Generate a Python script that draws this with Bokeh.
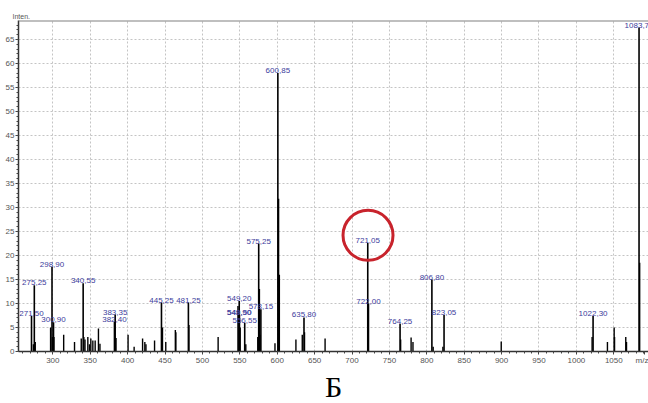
from bokeh.plotting import figure
from bokeh.models import (ColumnDataSource, LabelSet, Span, Range1d, SingleIntervalTicker,
                          FixedTicker, Title)
from bokeh.core.properties import value
from bokeh.embed import file_html
from bokeh.resources import INLINE

# ---- data: labelled peaks (m/z, intensity, label) ----
label_mz = [271.50, 275.25, 298.90, 300.90, 340.55, 382.40, 383.35, 445.25, 481.25,
            548.90, 549.50, 549.20, 556.55, 575.25, 578.15, 600.85, 635.80,
            721.05, 722.00, 764.25, 806.80, 823.05, 1022.30, 1083.75]
label_int = [7.4, 13.8, 17.6, 6.1, 14.2, 6.2, 7.7, 10.2, 10.2,
             7.6, 7.6, 10.5, 6.0, 22.5, 8.8, 58.0, 7.1,
             22.6, 10.0, 5.8, 15.0, 7.6, 7.4, 67.5]
label_text = ["271,50", "275,25", "298,90", "300,90", "340,55", "382,40", "383,35", "445,25", "481,25",
              "548,90", "549,50", "549,20", "556,55", "575,25", "578,15", "600,85", "635,80",
              "721,05", "722,00", "764,25", "806,80", "823,05", "1022,30", "1083,75"]

# ---- data: unlabelled peaks ----
peak_mz = [274.0, 276.5, 297.0, 299.5, 301.5, 314.5, 329.0, 338.0, 341.5, 343.0, 346.8, 349.0,
           350.8, 353.5, 356.6, 361.0, 363.0, 384.5, 400.6, 408.7, 420.0, 423.0, 424.5, 436.0,
           446.6, 451.0, 463.8, 464.5, 482.0, 521.0, 547.5, 550.5, 558.0, 574.0, 576.2, 577.0,
           597.0, 601.85, 602.85, 625.0, 633.5, 636.5, 664.0, 721.6, 765.0, 779.0, 781.5, 808.5,
           821.5, 899.5, 1021.0, 1041.5, 1050.5, 1051.0, 1066.0, 1067.0, 1084.6]
peak_int = [1.5, 2.0, 5.0, 3.0, 3.0, 3.5, 2.0, 2.7, 3.0, 2.5, 3.0, 1.5,
            2.7, 2.3, 2.3, 4.8, 1.6, 2.8, 3.5, 1.0, 2.7, 2.0, 1.5, 2.3,
            5.0, 2.0, 4.5, 4.0, 5.5, 3.0, 9.5, 5.0, 1.5, 3.0, 13.0, 3.5,
            1.7, 31.8, 16.0, 2.5, 3.5, 4.0, 2.7, 5.3, 2.5, 2.9, 2.0, 1.0,
            1.0, 2.1, 3.0, 2.0, 5.0, 3.0, 3.0, 2.0, 18.5]

# ---- axis ticks ----
x_ticks = list(range(300, 1051, 50))
x_unit_tick = 1091          # where the "m/z" caption sits on the axis
x_tick_labels = {str(t): str(t) for t in x_ticks}
x_tick_labels[str(x_unit_tick)] = "m/z"
y_major = 5

X_START, X_END = 254.1, 1096.4
Y_START, Y_END = 0.0, 68.96

circle_mz, circle_int = 721.4, 24.2

FONT = "Liberation Sans"

p = figure(width=648, height=403, output_backend="svg", toolbar_location=None,
           x_range=Range1d(X_START, X_END), y_range=Range1d(Y_START, Y_END),
           min_border_left=18, min_border_right=0, min_border_top=20, min_border_bottom=52,
           background_fill_color="white", border_fill_color="white")
p.outline_line_color = None

# titles: "Inten." above the y axis, caption "Б" below
p.title.text = "Inten."
p.title.text_font = FONT
p.title.text_font_size = "7px"
p.title.text_font_style = "normal"
p.title.text_color = "#555555"
p.title.align = "left"
p.title.offset = -6
p.title.standoff = 1
p.add_layout(Title(text="Б", text_font="Liberation Serif", text_font_size="30px",
                   text_font_style="normal", text_color="black", align="center",
                   offset=-4, standoff=1), "below")

# axes
p.xaxis.ticker = FixedTicker(ticks=x_ticks + [x_unit_tick],
                             minor_ticks=list(range(260, 1091, 10)))
p.xaxis.major_label_overrides = {float(k): v for k, v in x_tick_labels.items()}
p.yaxis.ticker = SingleIntervalTicker(interval=y_major, num_minor_ticks=5)
for ax in (p.xaxis[0], p.yaxis[0]):
    ax.axis_line_color = "#333333"
    ax.axis_line_width = 1.5
    ax.major_tick_line_color = "#444444"
    ax.minor_tick_line_color = "#444444"
    ax.major_tick_out = 3
    ax.major_tick_in = 0
    ax.minor_tick_out = 2
    ax.minor_tick_in = 0
    ax.major_label_text_font = FONT
    ax.major_label_text_font_size = "8px"
    ax.major_label_text_color = "#555555"
    ax.major_label_standoff = 1

# grid
p.xgrid.ticker = FixedTicker(ticks=x_ticks)
p.ygrid.ticker = SingleIntervalTicker(interval=y_major)
for g in (p.xgrid[0], p.ygrid[0]):
    g.grid_line_color = "#c4c4c4"
    g.grid_line_dash = "2 2"

# top border line
p.add_layout(Span(location=Y_END, dimension="width", line_color="#808080", line_width=2))

# peaks
small = ColumnDataSource(dict(mz=peak_mz, h=peak_int, z=[0] * len(peak_mz)))
p.segment(x0="mz", y0="z", x1="mz", y1="h", source=small, line_color="black", line_width=1.4)
lab = ColumnDataSource(dict(mz=label_mz, h=label_int, z=[0] * len(label_mz), t=label_text))
p.segment(x0="mz", y0="z", x1="mz", y1="h", source=lab, line_color="black", line_width=1.6)

p.add_layout(LabelSet(x="mz", y="h", text="t", source=lab, text_font=value(FONT),
                      text_font_size="8px", text_color="#3c3c9c", text_align="center",
                      text_baseline="bottom"))

# red circle highlight
p.scatter(x=[circle_mz], y=[circle_int], marker="circle", size=50,
          fill_color=None, line_color="#c8232c", line_width=3)

open("out.html", "w").write(file_html(p, INLINE))
